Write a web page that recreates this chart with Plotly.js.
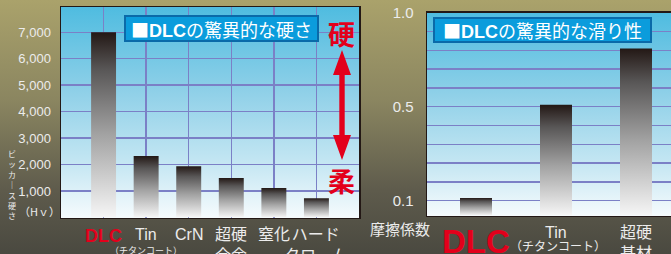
<!DOCTYPE html>
<html>
<head>
<meta charset="utf-8">
<script src="https://cdn.plot.ly/plotly-3.0.1.min.js"></script>
<style>
  html, body { margin:0; padding:0; width:671px; height:254px; overflow:hidden;
    background: linear-gradient(to bottom, #aaa26b 0%, #8a8560 40%, #5e5b4c 75%, #4a4940 100%); }
  .bg { position:absolute; background: linear-gradient(to bottom, #4fbce0 0%, #8fd0e8 40%, #c6e7f3 75%, #f6fbfd 100%); }
  #chart { position:absolute; left:0; top:0; width:671px; height:254px; }
</style>
</head>
<body>
<div class="bg" style="left:61px; top:7px; width:298px; height:211px;"></div>
<div class="bg" style="left:427px; top:13px; width:244px; height:203px;"></div>
<div id="chart"></div>
<script>
// ---- data ----
const hardCats = ['DLC', 'Tin', 'CrN', '超硬<br>合金', '窒化', 'ハード<br>クローム'];
const hardVals = [7000, 2320, 1940, 1490, 1110, 730];
const hardTicks = [1000, 2000, 3000, 4000, 5000, 6000, 7000];

const fricCats = ['DLC', 'Tin', '超硬<br>基材'];
const fricVals = [0.015, 0.51, 0.81];
const fricTickVals = [0, 0.1, 0.2, 0.3, 0.4, 0.5, 0.6, 0.7, 0.8, 0.9, 1.0];
const fricTickText = ['0.1', '', '', '', '', '0.5', '', '', '', '', '1.0'];

// ---- layout helpers ----
const W = 671, H = 254;
const px = x => x / W;
const py = y => 1 - y / H;
const FONT = 'Liberation Sans, Arial, "Noto Sans CJK JP", sans-serif';
const CJK = '"Noto Sans CJK JP", sans-serif';
const LIGHT = '#ececec';
const RED = '#e3001b';
const GRID = '#7b80c6';
const grad = { type: 'vertical', colorscale: [[0, '#f6f6f6'], [0.45, '#a2a2a2'], [0.8, '#585656'], [1, '#231815']] };

const Y2MIN = -0.0787;
const traces = [];
function barTrace(i, v, hw, base, xa, ya) {
  return {
    type: 'scatter', mode: 'lines', fill: 'toself',
    x: [i - hw, i + hw, i + hw, i - hw, i - hw],
    y: [base, base, v, v, base],
    line: { width: 0, color: 'rgba(0,0,0,0)' },
    fillgradient: grad,
    xaxis: xa, yaxis: ya, hoverinfo: 'skip', showlegend: false
  };
}
hardVals.forEach((v, i) => traces.push(barTrace(i, v, 0.293, 0, 'x', 'y')));
fricVals.forEach((v, i) => traces.push(barTrace(i, v, 0.2, Y2MIN, 'x2', 'y2')));

const ann = [];
function A(o) { ann.push(Object.assign({ showarrow: false, xanchor: 'center', yanchor: 'middle', xref: 'paper', yref: 'paper' }, o)); }
const SQ = '<span style="font-family:\'Noto Sans CJK JP\'">■</span>';
// legends
A({ x: px(221.5), y: py(28.5), text: SQ + '<b>DLC</b>の驚異的な硬さ', width: 191, height: 23,
  font: { family: FONT, size: 18, color: '#ffffff' }, bgcolor: '#0b9cdc', bordercolor: '#0a6aa9', borderwidth: 2, borderpad: 0 });
A({ x: px(542.5), y: py(30), text: SQ + '<b>DLC</b>の驚異的な滑り性', width: 215, height: 22,
  font: { family: FONT, size: 18, color: '#ffffff' }, bgcolor: '#0b9cdc', bordercolor: '#0a6aa9', borderwidth: 2, borderpad: 0 });
// hard / soft
A({ x: px(341), y: py(33), text: '<b>硬</b>', font: { family: CJK, size: 27, color: RED } });
A({ x: px(341), y: py(180), text: '<b>柔</b>', font: { family: CJK, size: 27, color: RED } });
// y axis titles
A({ x: px(39), y: py(211), text: '（Hｖ）', font: { family: CJK, size: 11, color: LIGHT } });
A({ x: px(12), y: py(184), text: 'ビ<br>ッ<br>カ<br>｜<br>ス<br>硬<br>さ', font: { family: CJK, size: 8, color: LIGHT } });
A({ x: px(400), y: py(228), text: '摩擦係数', font: { family: CJK, size: 15, color: LIGHT } });
// left category labels
hardCats.forEach((c, i) => {
  const isDLC = c === 'DLC';
  A({ xref: 'x', x: i, y: py(224), yanchor: 'top', text: isDLC ? '<b>' + c + '</b>' : c,
    font: { family: FONT, size: isDLC ? 18 : 16, color: isDLC ? RED : LIGHT } });
});
A({ xref: 'x', x: 1, y: py(250), text: '（チタンコート）', font: { family: CJK, size: 9, color: LIGHT } });
// right category labels
fricCats.forEach((c, i) => {
  const isDLC = c === 'DLC';
  A({ xref: 'x2', x: i, y: isDLC ? py(241) : py(222), yanchor: isDLC ? 'middle' : 'top',
    text: isDLC ? '<b>' + c + '</b>' : c,
    font: { family: FONT, size: isDLC ? 33 : 16, color: isDLC ? RED : LIGHT } });
});
A({ x: px(558), y: py(245), text: '（チタンコート）', font: { family: CJK, size: 12, color: LIGHT } });

// double arrow
const ap = [[342, 50], [351, 75], [344.7, 75], [344.7, 135], [351, 135], [342, 160], [333, 135], [339.3, 135], [339.3, 75], [333, 75]];
const path = 'M ' + ap.map(p => px(p[0]) + ',' + py(p[1])).join(' L ') + ' Z';
const shapes = [{ type: 'path', xref: 'paper', yref: 'paper', path: path, fillcolor: RED, line: { width: 0 }, layer: 'above' }];

const axBase = { showline: true, mirror: true, linecolor: '#231815', linewidth: 1.5, zeroline: false, fixedrange: true };
const layout = {
  width: W, height: H, margin: { l: 0, r: 0, t: 0, b: 0 },
  paper_bgcolor: 'rgba(0,0,0,0)', plot_bgcolor: 'rgba(0,0,0,0)',
  showlegend: false, hovermode: false,
  font: { family: FONT, color: LIGHT },
  xaxis: Object.assign({}, axBase, { domain: [px(61), px(359)], range: [-1, 6], dtick: 1, tick0: 0,
    showgrid: true, gridcolor: GRID, gridwidth: 1.3, showticklabels: false, anchor: 'y' }),
  yaxis: Object.assign({}, axBase, { domain: [py(217.5), py(7)], range: [0, 7950], tickmode: 'array', tickvals: hardTicks,
    tickformat: ',', showgrid: true, gridcolor: GRID, gridwidth: 1.3, ticks: '', ticklabelstandoff: 6,
    tickfont: { family: FONT, size: 13, color: LIGHT }, anchor: 'x' }),
  xaxis2: Object.assign({}, axBase, { domain: [px(427), 1], range: [-0.6125, 2.4375], showgrid: false,
    showticklabels: false, anchor: 'y2' }),
  yaxis2: Object.assign({}, axBase, { domain: [py(215.5), py(12.7)], range: [Y2MIN, 1.0], tickmode: 'array',
    tickvals: fricTickVals, ticktext: fricTickText, showgrid: true, gridcolor: GRID, gridwidth: 1.3, ticks: '',
    ticklabelstandoff: 9, tickfont: { family: FONT, size: 15, color: LIGHT }, anchor: 'x2' }),
  annotations: ann, shapes: shapes
};
Plotly.newPlot('chart', traces, layout, { staticPlot: true, displayModeBar: false });
</script>
</body>
</html>
